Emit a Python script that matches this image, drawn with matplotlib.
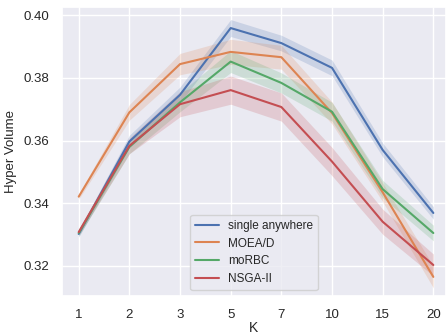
import numpy as np
import matplotlib
matplotlib.use("Agg")
import matplotlib.pyplot as plt
import seaborn as sns

ks = ["1", "2", "3", "5", "7", "10", "15", "20"]

single_anywhere = [0.3302, 0.3597, 0.3746, 0.3959, 0.3911, 0.3832, 0.3570, 0.3369]
moead = [0.3421, 0.3690, 0.3844, 0.3883, 0.3866, 0.3688, 0.3435, 0.3165]
morbc = [0.3305, 0.3580, 0.3722, 0.3852, 0.3784, 0.3692, 0.3445, 0.3305]
nsga2 = [0.3308, 0.3583, 0.3716, 0.3761, 0.3707, 0.3533, 0.3341, 0.3203]

# half width of the shaded bands
single_err = [0.0010, 0.0020, 0.0025, 0.0027, 0.0025, 0.0025, 0.0022, 0.0020]
moead_err = [0.0008, 0.0025, 0.0034, 0.0040, 0.0038, 0.0035, 0.0030, 0.0035]
morbc_err = [0.0010, 0.0022, 0.0030, 0.0035, 0.0032, 0.0030, 0.0028, 0.0025]
nsga2_err = [0.0010, 0.0025, 0.0040, 0.0045, 0.0045, 0.0045, 0.0040, 0.0035]

series = [
    ("single anywhere", single_anywhere, single_err),
    ("MOEA/D", moead, moead_err),
    ("moRBC", morbc, morbc_err),
    ("NSGA-II", nsga2, nsga2_err),
]

sns.set_theme(style="darkgrid")
plt.rcParams['font.family'] = ['Liberation Sans', 'DejaVu Sans']
colors = sns.color_palette()

fig, ax = plt.subplots(figsize=(4.46, 3.36), dpi=100)
x = np.arange(len(ks))
for i, (name, vals, err) in enumerate(series):
    vals = np.array(vals)
    err = np.array(err)
    ax.plot(x, vals, color=colors[i], lw=1.5, label=name)
    ax.fill_between(x, vals - err, vals + err, color=colors[i], alpha=0.2, lw=0)

ax.set_xticks(x)
ax.set_xticklabels(ks)
ax.set_xlim(-0.33, 7.25)
ax.set_ylim(0.3104, 0.4026)
ax.set_yticks([0.32, 0.34, 0.36, 0.38, 0.40])
ax.set_yticklabels(["0.32", "0.34", "0.36", "0.38", "0.40"])
ax.tick_params(labelsize=9.5)
ax.set_xlabel("K", fontsize=10, labelpad=0)
ax.set_ylabel("Hyper Volume", fontsize=9.5)
ax.legend(loc="lower center", fontsize=8.5, bbox_to_anchor=(0.5, 0.0),
          handlelength=2.0)

fig.subplots_adjust(left=0.139, right=1.0, top=0.979, bottom=0.119)
fig.savefig("out.png", dpi=100)
